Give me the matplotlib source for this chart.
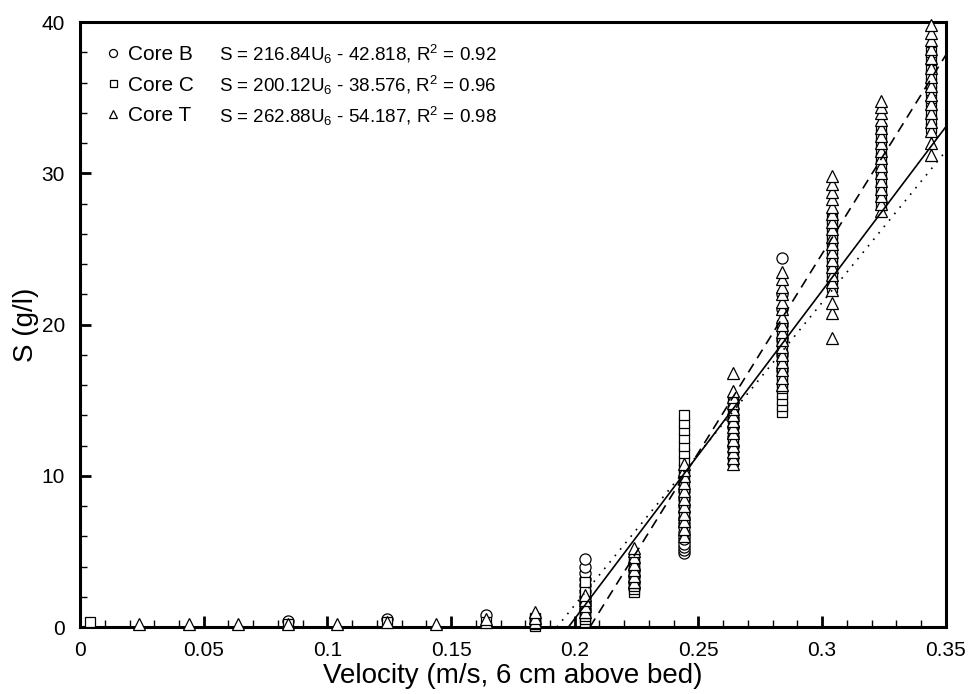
import matplotlib
matplotlib.use('Agg')
import matplotlib.pyplot as plt
from matplotlib.ticker import MultipleLocator

plt.rcParams['font.family'] = ['Liberation Sans', 'DejaVu Sans']
plt.rcParams['mathtext.fontset'] = 'custom'
plt.rcParams['mathtext.rm'] = 'Liberation Sans'
plt.rcParams['mathtext.it'] = 'Liberation Sans'

# velocity bins (m/s) and sediment concentration S (g/l) per bin
core_b_u = [0.084, 0.124, 0.164, 0.204, 0.224, 0.244, 0.264, 0.284]
core_b_s = [
    [0.4],
    [0.5],
    [0.8],
    [1.2, 1.6, 2.0, 2.4, 2.8, 3.2, 3.6, 4.0, 4.5],
    [2.6, 3.0, 3.4, 3.8],
    [4.9, 5.1, 5.3, 5.5, 5.8, 6.0, 6.3, 6.6, 6.9, 7.2, 7.6, 8.0, 8.5, 9.0],
    [12.0, 12.6, 13.2, 13.8],
    [17.0, 18.0, 19.0, 20.0, 21.0, 22.0, 24.4],
]

core_c_u = [0.004, 0.084, 0.124, 0.164, 0.184, 0.204, 0.224, 0.244, 0.264, 0.284,
            0.304, 0.324, 0.344]
core_c_s = [
    [0.3],
    [0.2],
    [0.3],
    [0.3],
    [0.1, 0.2, 0.3, 0.4, 0.5, 0.6],
    [0.3, 0.5, 0.7, 0.9, 1.1, 1.3, 1.5, 1.7, 2.0, 2.4, 3.0],
    [2.3, 2.5, 2.7, 2.9, 3.1, 3.3, 3.5, 3.7, 3.9, 4.1, 4.3, 4.5],
    [7.0, 7.5, 8.0, 8.5, 9.0, 9.5, 10.0, 10.5, 11.0, 11.5, 12.0, 12.5, 13.0, 13.5, 14.0],
    [11.0, 11.4, 11.8, 12.2, 12.6, 13.0, 13.4, 13.8, 14.2, 14.6, 15.0],
    [14.2, 14.6, 15.0, 15.4, 15.8, 16.2, 16.6, 17.0, 17.5, 18.0, 18.5, 19.0, 19.5, 20.0],
    [22.5, 23.0, 23.5, 24.0, 24.5, 25.0, 25.5, 26.0, 26.5, 27.0],
    [28.0, 28.5, 29.0, 29.5, 30.0, 30.5, 31.0, 31.5, 32.0, 32.5, 33.0],
    [33.0, 33.5, 34.0, 34.5, 35.0, 35.5, 36.0, 36.5, 37.0, 37.5, 38.0],
]

core_t_u = [0.024, 0.044, 0.064, 0.084, 0.104, 0.124, 0.144, 0.164, 0.184, 0.204,
            0.224, 0.244, 0.264, 0.284, 0.304, 0.324, 0.344]
core_t_s = [
    [0.2],
    [0.2],
    [0.2],
    [0.2],
    [0.2],
    [0.3],
    [0.2],
    [0.3, 0.5],
    [0.3, 0.6, 1.0],
    [1.0, 1.4, 1.8, 2.1],
    [3.0, 3.4, 3.8, 4.2, 4.6, 5.0, 5.2],
    [6.0, 6.5, 7.0, 7.5, 8.0, 8.5, 9.0, 9.5, 10.0, 10.4, 10.8],
    [10.8, 11.2, 11.6, 12.0, 12.4, 12.8, 13.2, 13.6, 14.0, 14.4, 14.8, 15.2, 15.6, 16.8],
    [16.0, 16.5, 17.0, 17.5, 18.0, 18.5, 19.0, 19.5, 20.0, 20.5, 21.0, 21.5, 22.0,
     22.5, 23.0, 23.5],
    [19.1, 20.8, 21.4, 22.3, 22.8, 23.3, 23.8, 24.3, 24.8, 25.3, 25.8, 26.3, 26.8,
     27.3, 27.8, 28.3, 28.8, 29.3, 29.8],
    [27.5, 28.0, 28.5, 29.0, 29.5, 30.0, 30.5, 31.0, 31.5, 32.0, 32.5, 33.0, 33.5,
     34.0, 34.4, 34.8],
    [31.2, 32.0, 32.8, 33.4, 34.0, 34.6, 35.2, 35.8, 36.4, 37.0, 37.6, 38.2, 38.8,
     39.3, 39.8],
]

# regression fits S = a*U6 + b
fit_names = ['Core B', 'Core C', 'Core T']
fit_slope = [216.84, 200.12, 262.88]
fit_icept = [-42.818, -38.576, -54.187]
fit_r2 = ['0.92', '0.96', '0.98']
fit_styles = ['-', ':', '--']
markers = ['o', 's', '^']
marker_sizes = [8, 7, 8.5]


def flatten(us, ss):
    xs, ys = [], []
    for u, vals in zip(us, ss):
        xs += [u] * len(vals)
        ys += vals
    return xs, ys


fig, ax = plt.subplots(figsize=(9.69, 6.94), dpi=100)
fig.subplots_adjust(left=0.0826, right=0.976, top=0.968, bottom=0.0965)

series = [flatten(core_b_u, core_b_s), flatten(core_c_u, core_c_s),
          flatten(core_t_u, core_t_s)]

handles = []
for (xs, ys), m, ms, name in zip(series, markers, marker_sizes, fit_names):
    h, = ax.plot(xs, ys, linestyle='none', marker=m, markersize=ms,
                 markerfacecolor='white', markeredgecolor='black',
                 markeredgewidth=0.9, label=name, clip_on=False, zorder=3)
    handles.append(h)

for a, b, ls in zip(fit_slope, fit_icept, fit_styles):
    x0 = -b / a
    line, = ax.plot([x0, 0.35], [a * x0 + b, a * 0.35 + b], color='black',
                    linestyle=ls, linewidth=1.2, zorder=4)
    if ls == '--':
        line.set_dashes((6, 4))
    elif ls == ':':
        line.set_dashes((1, 4))

leg = ax.legend(handles=handles, loc='upper left', frameon=False, fontsize=15,
                handletextpad=0.2, handlelength=1.0, borderaxespad=0.55,
                borderpad=0.55, labelspacing=0.56, markerscale=0.72)

for i, (a, b, r2) in enumerate(zip(fit_slope, fit_icept, fit_r2)):
    txt = 'S = %.2fU$_6$ - %.3f, R$^2$ = %s' % (a, -b, r2)
    ax.text(0.1605, 0.947 - i * 0.0512, txt, transform=ax.transAxes,
            fontsize=13.5, va='center', ha='left')

ax.set_xlim(0, 0.35)
ax.set_ylim(0, 40)
ax.xaxis.set_major_locator(MultipleLocator(0.05))
ax.xaxis.set_minor_locator(MultipleLocator(0.01))
ax.yaxis.set_major_locator(MultipleLocator(10))
ax.yaxis.set_minor_locator(MultipleLocator(2))
ax.set_xticks([0, 0.05, 0.1, 0.15, 0.2, 0.25, 0.3, 0.35])
ax.set_xticklabels(['0', '0.05', '0.1', '0.15', '0.2', '0.25', '0.3', '0.35'])
ax.tick_params(which='major', direction='in', length=8, width=2, labelsize=15,
               top=False, right=False)
ax.tick_params(axis='x', which='major', pad=10)
ax.tick_params(axis='y', which='major', pad=11)
ax.tick_params(which='minor', direction='in', length=5, width=1,
               top=False, right=False)

for sp in ax.spines.values():
    sp.set_linewidth(2.2)

ax.set_xlabel('Velocity (m/s, 6 cm above bed)', fontsize=20, labelpad=2)
ax.set_ylabel('S (g/l)', fontsize=20, labelpad=2)

plt.savefig('out.png', dpi=100)
